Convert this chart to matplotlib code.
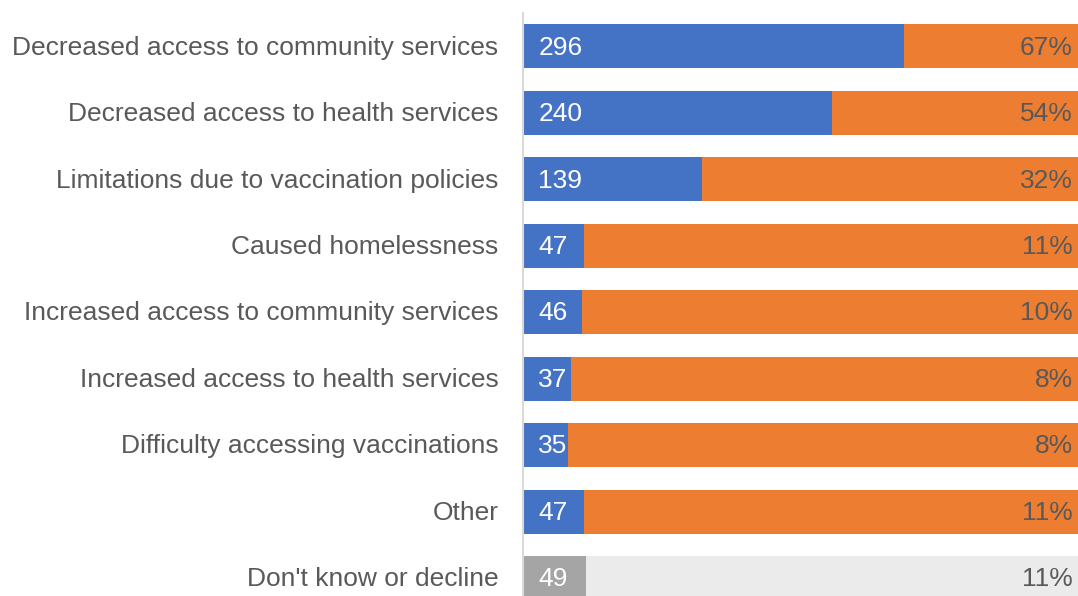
import matplotlib.pyplot as plt

categories = [
    "Decreased access to community services",
    "Decreased access to health services",
    "Limitations due to vaccination policies",
    "Caused homelessness",
    "Increased access to community services",
    "Increased access to health services",
    "Difficulty accessing vaccinations",
    "Other",
    "Don't know or decline",
]
counts = [296, 240, 139, 47, 46, 37, 35, 47, 49]
percents = ["67%", "54%", "32%", "11%", "10%", "8%", "8%", "11%", "11%"]

x_max = 431
blue, orange = "#4472C4", "#ED7D31"
gray, light_gray = "#A5A5A5", "#EBEBEB"
text_gray = "#595959"

plt.rcParams['font.family'] = ['Liberation Sans', 'DejaVu Sans']

fig = plt.figure(figsize=(10.78, 5.96), dpi=100)
ax = fig.add_axes([523 / 1078, 0, 555 / 1078, 583 / 596])

y = list(range(len(categories)))
main_colors = [gray if c.startswith("Don't") else blue for c in categories]
rest_colors = [light_gray if c.startswith("Don't") else orange for c in categories]
rest = [x_max - c for c in counts]

ax.barh(y, counts, height=0.66, color=main_colors)
ax.barh(y, rest, left=counts, height=0.66, color=rest_colors)

fs = 19
for i, (cat, c, p) in enumerate(zip(categories, counts, percents)):
    ax.text(12, i + 0.02, str(c), color="white", fontsize=fs,
            va="center", ha="left")
    ax.text(x_max - 4, i + 0.02, p, color=text_gray, fontsize=fs,
            va="center", ha="right")
    ax.text(-19, i + 0.02, cat, color=text_gray, fontsize=fs,
            va="center", ha="right")

ax.set_xlim(0, x_max)
ax.set_ylim(8.27, -0.5)
ax.set_xticks([])
ax.set_yticks([])
for s in ["top", "right", "bottom"]:
    ax.spines[s].set_visible(False)
ax.spines["left"].set_color("#D9D9D9")
ax.spines["left"].set_linewidth(1.5)

fig.savefig("out.png", dpi=100)
